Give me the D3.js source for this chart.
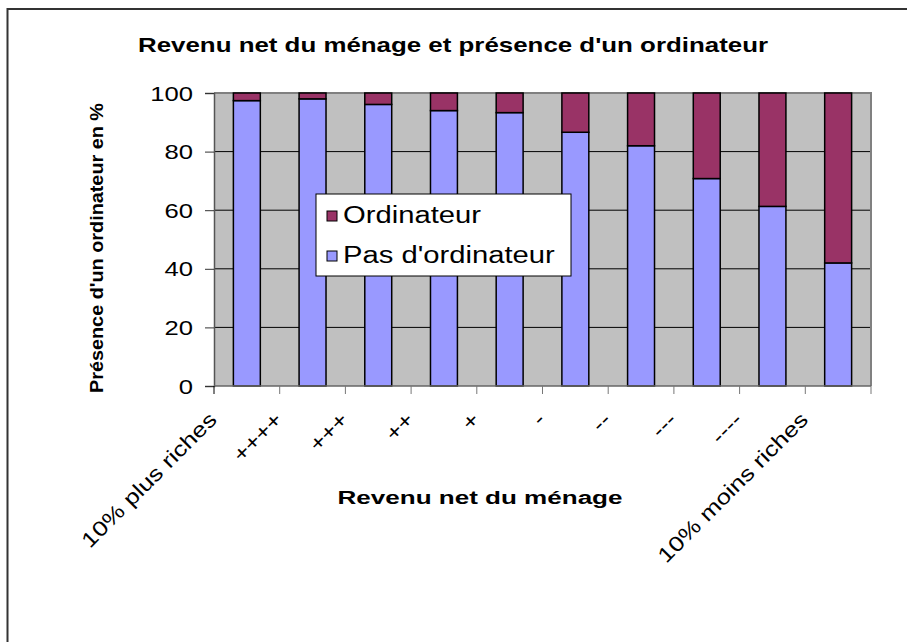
<!DOCTYPE html>
<html>
<head>
<meta charset="utf-8">
<script src="https://cdn.jsdelivr.net/npm/d3@7"></script>
<style>
  body { margin: 0; background: #fff; }
  text { font-family: "Liberation Sans", Arial, sans-serif; fill: #000; }
</style>
</head>
<body>
<div id="chart"></div>
<script>
// categories (income deciles) and series values, in %
var categories = ["10% plus riches", "++++", "+++", "++", "+", "-", "--", "---", "----", "10% moins riches"];
var pasOrdinateur = [97.4, 98, 96.1, 94, 93.3, 86.6, 82, 70.8, 61.3, 42];
var ordinateur = [2.6, 2, 3.9, 6, 6.7, 13.4, 18, 29.2, 38.7, 58];
var yTicks = [0, 20, 40, 60, 80, 100];
var seriesNames = ["Ordinateur", "Pas d'ordinateur"];
var seriesColors = ["#993366", "#9999FF"];

var width = 907, height = 642;
var plot = { left: 214, right: 871, top: 93, bottom: 386 };

// the reference text is rendered wider than the font would be; stretch it
function widen(sel, k) {
  sel.each(function() {
    var len = this.getComputedTextLength();
    d3.select(this).attr("textLength", len * k).attr("lengthAdjust", "spacingAndGlyphs");
  });
}

var svg = d3.select("#chart")
            .append("svg")
            .attr("width", width)
            .attr("height", height);

svg.append("rect")
    .attr("width", width).attr("height", height).attr("fill", "#fff");

// outer chart border (only top and left visible)
svg.append("rect")
    .attr("x", 7.5).attr("y", 9)
    .attr("width", 1000).attr("height", 1000)
    .attr("fill", "none").attr("stroke", "#333").attr("stroke-width", 2);

var title = svg.append("text")
    .attr("x", 453)
    .attr("y", 52)
    .attr("text-anchor", "middle")
    .attr("font-size", "21px")
    .attr("font-weight", "bold")
    .text("Revenu net du ménage et présence d'un ordinateur");
widen(title, 630 / title.node().getComputedTextLength());

var x = d3.scaleBand()
          .domain(categories)
          .range([plot.left, plot.right])
          .paddingInner(0.59)
          .paddingOuter(0.295);
var y = d3.scaleLinear().domain([0, 100]).range([plot.bottom, plot.top]);

// plot background
svg.append("rect")
    .attr("x", plot.left).attr("y", plot.top)
    .attr("width", plot.right - plot.left).attr("height", plot.bottom - plot.top)
    .attr("fill", "#C0C0C0");

// gridlines
svg.append("g")
    .selectAll("line")
    .data(yTicks.filter(function(d) { return d > 0 && d < 100; }))
    .enter()
    .append("line")
    .attr("x1", plot.left).attr("x2", plot.right)
    .attr("y1", function(d) { return y(d); })
    .attr("y2", function(d) { return y(d); })
    .attr("stroke", "#000").attr("stroke-width", 1);

// plot border top/right
svg.append("path")
    .attr("d", "M" + plot.left + "," + plot.top + "H" + plot.right + "V" + plot.bottom)
    .attr("fill", "none").attr("stroke", "#808080").attr("stroke-width", 2);

// stacked bars
var stacked = categories.map(function(c, i) {
  return { cat: c, pas: pasOrdinateur[i], ordi: ordinateur[i] };
});

svg.append("g").selectAll("rect")
    .data(stacked)
    .enter()
    .append("rect")
    .attr("x", function(d) { return x(d.cat); })
    .attr("y", function(d) { return y(d.pas); })
    .attr("width", x.bandwidth())
    .attr("height", function(d) { return y(0) - y(d.pas); })
    .attr("fill", seriesColors[1])
    .attr("stroke", "#000").attr("stroke-width", 1.5);

svg.append("g").selectAll("rect")
    .data(stacked)
    .enter()
    .append("rect")
    .attr("x", function(d) { return x(d.cat); })
    .attr("y", function(d) { return y(d.pas + d.ordi); })
    .attr("width", x.bandwidth())
    .attr("height", function(d) { return y(d.pas) - y(d.pas + d.ordi); })
    .attr("fill", seriesColors[0])
    .attr("stroke", "#000").attr("stroke-width", 1.5);

// y axis
var yAxis = svg.append("g")
    .attr("transform", "translate(" + plot.left + ",0)")
    .call(d3.axisLeft(y).tickValues(yTicks).tickSize(9).tickPadding(0));
yAxis.select(".domain").attr("stroke", "#555").attr("stroke-width", 1.5);
yAxis.selectAll(".tick line").attr("stroke", "#333");
yAxis.selectAll(".tick text").remove();
var yLabels = svg.append("g").selectAll("text")
    .data(yTicks)
    .enter()
    .append("text")
    .attr("x", 193)
    .attr("y", function(d) { return y(d) + 7.5; })
    .attr("text-anchor", "end")
    .attr("font-size", "21px")
    .text(function(d) { return d; });
widen(yLabels, 1.22);

// x axis: ticks on band boundaries
var step = x.step();
var boundaries = d3.range(categories.length + 1).map(function(i) {
  return x(categories[0]) - step * x.paddingOuter() + i * step;
});
svg.append("line")
    .attr("x1", plot.left).attr("x2", plot.right)
    .attr("y1", plot.bottom).attr("y2", plot.bottom)
    .attr("stroke", "#666").attr("stroke-width", 1.5);
svg.append("g").selectAll("line")
    .data(boundaries)
    .enter()
    .append("line")
    .attr("x1", function(d) { return d; }).attr("x2", function(d) { return d; })
    .attr("y1", plot.bottom).attr("y2", plot.bottom + 8)
    .attr("stroke", function(d, i) { return i === 0 ? "#000" : "#777"; });

var xLabels = svg.append("g").selectAll("text")
    .data(categories)
    .enter()
    .append("text")
    .attr("transform", function(d, i) {
      return "translate(" + (boundaries[i] + 4) + "," + 421 + ") rotate(-45)";
    })
    .attr("text-anchor", "end")
    .attr("font-size", "21px")
    .text(function(d) { return d; });
widen(xLabels, 1.22);

// axis titles
var xTitle = svg.append("text")
    .attr("x", 480)
    .attr("y", 504)
    .attr("text-anchor", "middle")
    .attr("font-size", "18px")
    .attr("font-weight", "bold")
    .text("Revenu net du ménage");
widen(xTitle, 285 / xTitle.node().getComputedTextLength());

var yTitle = svg.append("text")
    .attr("transform", "translate(103,248) rotate(-90)")
    .attr("text-anchor", "middle")
    .attr("font-size", "18px")
    .attr("font-weight", "bold")
    .text("Présence d'un ordinateur en %");
widen(yTitle, 290 / yTitle.node().getComputedTextLength());

// legend
var legend = svg.append("g").attr("transform", "translate(316,194)");
legend.append("rect")
    .attr("width", 255).attr("height", 82)
    .attr("fill", "#fff").attr("stroke", "#000").attr("stroke-width", 1);
var items = legend.selectAll(".item")
    .data(seriesNames)
    .enter()
    .append("g")
    .attr("class", "item")
    .attr("transform", function(d, i) { return "translate(11," + (17 + i * 40) + ")"; });
items.append("rect")
    .attr("width", 10).attr("height", 10)
    .attr("fill", function(d, i) { return seriesColors[i]; })
    .attr("stroke", "#000").attr("stroke-width", 1);
var legendText = items.append("text")
    .attr("x", 16)
    .attr("y", 12)
    .attr("font-size", "23px")
    .text(function(d) { return d; });
widen(legendText, 1.27);
</script>
</body>
</html>
